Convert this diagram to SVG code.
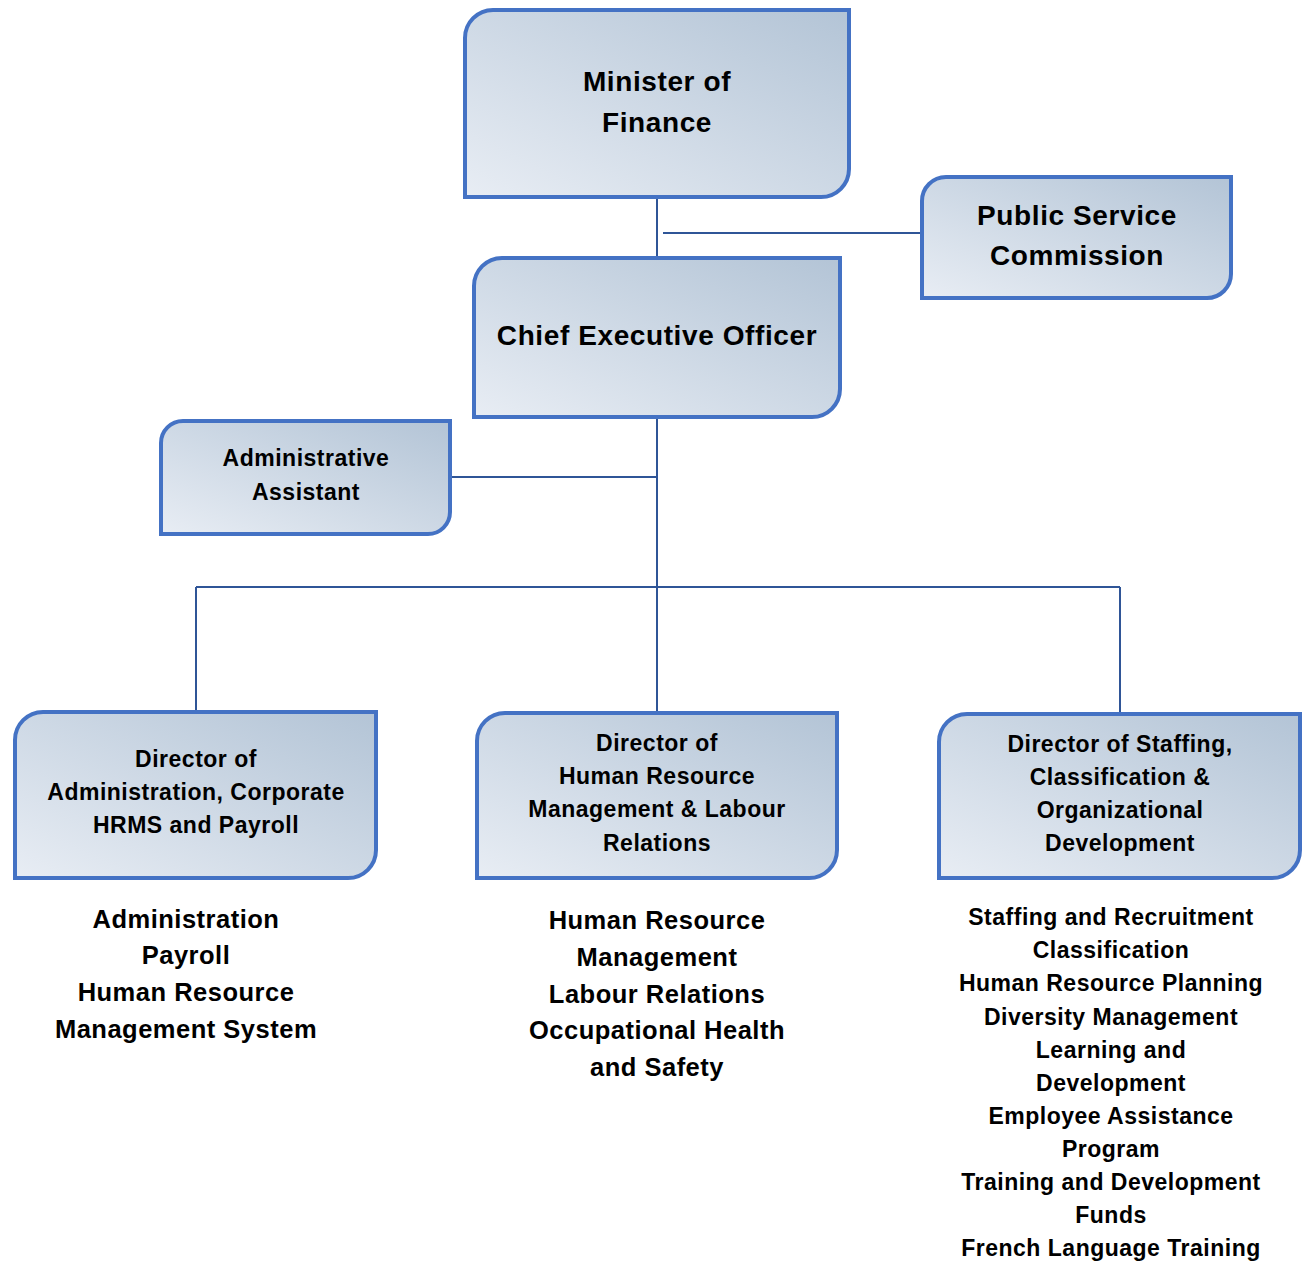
<svg xmlns="http://www.w3.org/2000/svg" width="1304" height="1262" viewBox="0 0 1304 1262">
<defs>
<linearGradient id="g" x1="0" y1="1" x2="1" y2="0">
<stop offset="0" stop-color="#E8EDF4"/>
<stop offset="1" stop-color="#B3C4D6"/>
</linearGradient>
<style>
.box{fill:url(#g);stroke:#4472C4;stroke-width:4}
.t{font-family:"Liberation Sans",Arial,sans-serif;font-weight:bold;fill:#000;text-anchor:middle}
.l{font-size:28px;letter-spacing:0.6px}
.m{font-size:23px;letter-spacing:0.5px}
.b{font-size:25.5px;letter-spacing:0.5px}
.c{stroke:#2F5597;stroke-width:2;fill:none}
</style>
</defs>
<rect width="1304" height="1262" fill="#fff"/>
<g id="connectors">
<line class="c" x1="657" y1="197" x2="657" y2="258"/>
<line class="c" x1="663" y1="233" x2="922" y2="233"/>
<line class="c" x1="657" y1="417" x2="657" y2="713"/>
<line class="c" x1="450" y1="477" x2="657" y2="477"/>
<line class="c" x1="196" y1="587" x2="1120" y2="587"/>
<line class="c" x1="196" y1="587" x2="196" y2="712"/>
<line class="c" x1="1120" y1="587" x2="1120" y2="714"/>
</g>
<g id="minister">
<path class="box" d="M493 10 H849 V169 A28 28 0 0 1 821 197 H465 V38 A28 28 0 0 1 493 10 Z"/>
<text class="t l" x="657" y="91">Minister of</text>
<text class="t l" x="657" y="132">Finance</text>
</g>
<g id="psc">
<path class="box" d="M946 177 H1231 V274 A24 24 0 0 1 1207 298 H922 V201 A24 24 0 0 1 946 177 Z"/>
<text class="t l" x="1077" y="225">Public Service</text>
<text class="t l" x="1077" y="265">Commission</text>
</g>
<g id="ceo">
<path class="box" d="M502 258 H840 V389 A28 28 0 0 1 812 417 H474 V286 A28 28 0 0 1 502 258 Z"/>
<text class="t l" x="657" y="345">Chief Executive Officer</text>
</g>
<g id="admin">
<path class="box" d="M183 421 H450 V512 A22 22 0 0 1 428 534 H161 V443 A22 22 0 0 1 183 421 Z"/>
<text class="t m" x="306" y="466">Administrative</text>
<text class="t m" x="306" y="500">Assistant</text>
</g>
<g id="dir1">
<path class="box" d="M43 712 H376 V850 A28 28 0 0 1 348 878 H15 V740 A28 28 0 0 1 43 712 Z"/>
<text class="t m" x="196" y="767">Director of</text>
<text class="t m" x="196" y="800">Administration, Corporate</text>
<text class="t m" x="196" y="833">HRMS and Payroll</text>
</g>
<g id="dir2">
<path class="box" d="M505 713 H837 V850 A28 28 0 0 1 809 878 H477 V741 A28 28 0 0 1 505 713 Z"/>
<text class="t m" x="657" y="751">Director of</text>
<text class="t m" x="657" y="784">Human Resource</text>
<text class="t m" x="657" y="817">Management &amp; Labour</text>
<text class="t m" x="657" y="851">Relations</text>
</g>
<g id="dir3">
<path class="box" d="M967 714 H1300 V850 A28 28 0 0 1 1272 878 H939 V742 A28 28 0 0 1 967 714 Z"/>
<text class="t m" x="1120" y="752">Director of Staffing,</text>
<text class="t m" x="1120" y="785">Classification &amp;</text>
<text class="t m" x="1120" y="818">Organizational</text>
<text class="t m" x="1120" y="851">Development</text>
</g>
<g id="list1">
<text class="t b" x="186" y="928">Administration</text>
<text class="t b" x="186" y="964">Payroll</text>
<text class="t b" x="186" y="1001">Human Resource</text>
<text class="t b" x="186" y="1038">Management System</text>
</g>
<g id="list2">
<text class="t b" x="657" y="929">Human Resource</text>
<text class="t b" x="657" y="966">Management</text>
<text class="t b" x="657" y="1003">Labour Relations</text>
<text class="t b" x="657" y="1039">Occupational Health</text>
<text class="t b" x="657" y="1076">and Safety</text>
</g>
<g id="list3">
<text class="t m" x="1111" y="925">Staffing and Recruitment</text>
<text class="t m" x="1111" y="958">Classification</text>
<text class="t m" x="1111" y="991">Human Resource Planning</text>
<text class="t m" x="1111" y="1025">Diversity Management</text>
<text class="t m" x="1111" y="1058">Learning and</text>
<text class="t m" x="1111" y="1091">Development</text>
<text class="t m" x="1111" y="1124">Employee Assistance</text>
<text class="t m" x="1111" y="1157">Program</text>
<text class="t m" x="1111" y="1190">Training and Development</text>
<text class="t m" x="1111" y="1223">Funds</text>
<text class="t m" x="1111" y="1256">French Language Training</text>
</g>
</svg>
